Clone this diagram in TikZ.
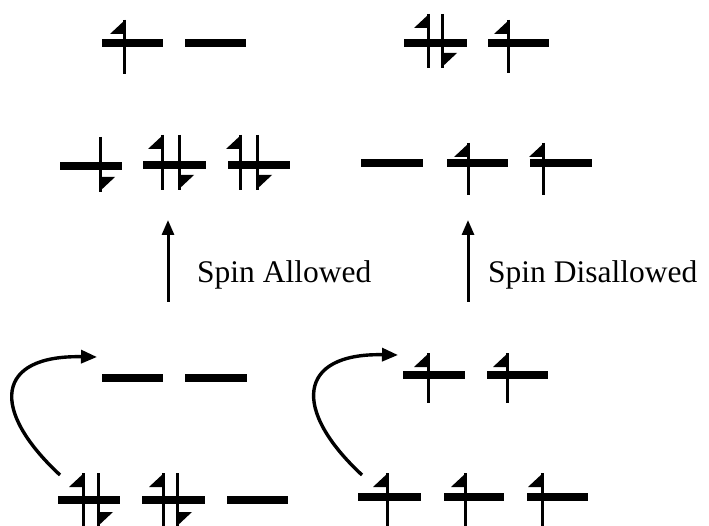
\documentclass[tikz,border=0pt]{standalone}
\usepackage{fontspec}
\setmainfont{Liberation Serif}
\usetikzlibrary{arrows.meta}
\tikzset{
  levelline/.style={line width=8pt, line cap=butt},
  spinstem/.style={line width=3pt},
  transarrow/.style={line width=3pt, -{Triangle[length=15pt,width=12pt]}},
  excitearrow/.style={line width=3.4pt, -{Triangle[length=16pt,width=13pt]}},
  lbl/.style={anchor=base west, inner sep=0pt, font=\fontsize{31.5}{36}\selectfont},
}
\newcommand{\orblevel}[3]{\draw[levelline] (#1,#3) -- (#2,#3);}
\newcommand{\spinup}[3]{\draw[spinstem] (#1,#2) -- (#1,#3);
  \fill (#1+1,#2) -- (#1+1,#2+14) -- (#1-14,#2+14) -- cycle;}
\newcommand{\spindn}[3]{\draw[spinstem] (#1,#2) -- (#1,#3);
  \fill (#1-1,#3) -- (#1-1,#3-15) -- (#1+15,#3-15) -- cycle;}
\begin{document}
\begin{tikzpicture}[x=1pt,y=-1pt]
\useasboundingbox (0,0) rectangle (709,526);
\clip (0,0) rectangle (709,526);
% Row 1
\orblevel{102}{163}{43} \spinup{124}{20}{74}
\orblevel{185}{246}{43}
\orblevel{404}{467}{43} \spinup{428}{14}{68} \spindn{442}{14}{68}
\orblevel{488}{549}{43} \spinup{508}{20}{73}
% Row 2
\orblevel{60}{122}{166} \spindn{100}{137}{192}
\orblevel{143}{206}{165} \spinup{162}{135}{190} \spindn{179}{135}{190}
\orblevel{228}{290}{165} \spinup{240}{135}{190} \spindn{257}{135}{190}
\orblevel{361}{423}{163}
\orblevel{447}{508}{163} \spinup{468}{143}{195}
\orblevel{530}{592}{163} \spinup{543}{143}{195}
% transitions
\coordinate (aLow) at (168,302);
\coordinate (aHigh) at (168,220);
\coordinate (bLow) at (468,302);
\coordinate (bHigh) at (468,220);
\draw[transarrow] (aLow) -- (aHigh);
\draw[transarrow] (bLow) -- (bHigh);
\node[lbl] (lblA) at (197,283) {Spin Allowed};
\node[lbl] (lblB) at (488,283) {Spin Disallowed};
% Row 3
\orblevel{102}{163}{378} \orblevel{185}{247}{378}
\orblevel{403}{465}{375} \spinup{428}{353}{403}
\orblevel{487}{548}{375} \spinup{507}{353}{403}
% excitation curves
\coordinate (cStart) at (60,475);
\coordinate (cEnd) at (97,357);
\coordinate (dStart) at (362,475);
\coordinate (dEnd) at (398,355);
\draw[excitearrow] (cStart) .. controls (-10,410) and (-5,355) .. (cEnd);
\draw[excitearrow] (dStart) .. controls (292,410) and (297,353) .. (dEnd);
% Row 4
\orblevel{58}{120}{500} \spinup{83}{473}{527} \spindn{98}{473}{527}
\orblevel{142}{205}{500} \spinup{163}{473}{527} \spindn{177}{473}{527}
\orblevel{227}{288}{500}
\orblevel{358}{421}{497} \spinup{387}{473}{530}
\orblevel{444}{504}{497} \spinup{465}{473}{530}
\orblevel{527}{588}{497} \spinup{542}{473}{530}
\end{tikzpicture}
\end{document}
